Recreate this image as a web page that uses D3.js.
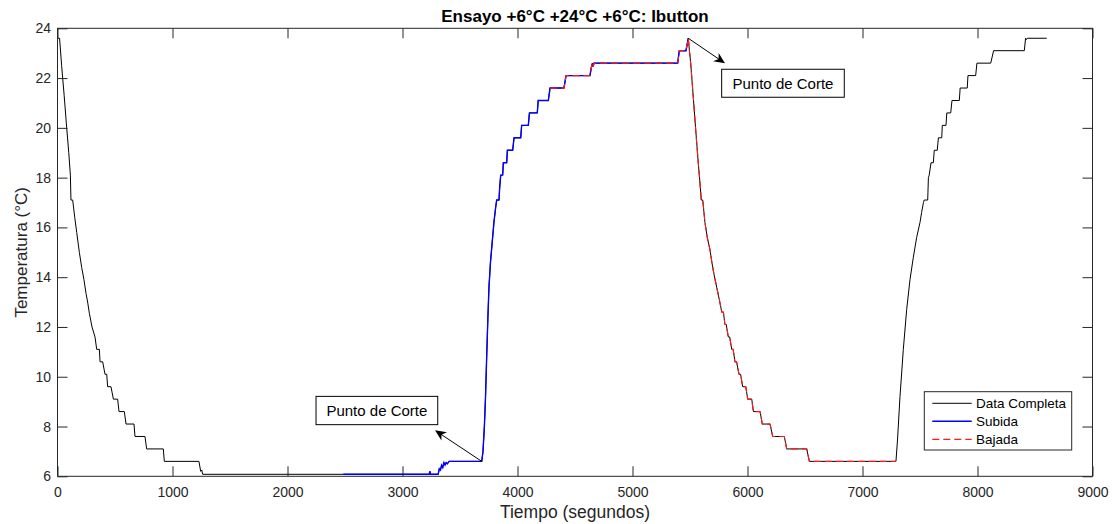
<!DOCTYPE html>
<html>
<head>
<meta charset="utf-8">
<script src="https://cdn.jsdelivr.net/npm/d3@7"></script>
<style>
  html, body { margin: 0; padding: 0; background: #fff; }
  svg { display: block; font-family: "Liberation Sans", Arial, sans-serif; }
</style>
</head>
<body>
<svg id="chart" width="1118" height="524"></svg>
<script>
// ---------------- DATA ----------------
const tituloTexto = "Ensayo +6°C +24°C +6°C: Ibutton";
const xEtiqueta = "Tiempo (segundos)";
const yEtiqueta = "Temperatura (°C)";

const xTicks = [0, 1000, 2000, 3000, 4000, 5000, 6000, 7000, 8000, 9000];
const yTicks = [6, 8, 10, 12, 14, 16, 18, 20, 22, 24];

const tiempo = [
  0, 18, 36, 58, 80, 98, 112, 117, 132, 150, 167, 190, 210, 230, 248, 262, 277, 300, 326,
  341, 364, 370, 393, 413, 428, 436, 465, 486, 523, 535, 581, 596, 665, 674, 761, 775, 920,
  929, 1230, 1245, 1255, 1262, 2485, 3232, 3238, 3244, 3310, 3320, 3330, 3340, 3350, 3360,
  3370, 3380, 3390, 3405, 3436, 3689, 3700, 3712, 3722, 3732, 3742, 3752, 3765, 3780, 3795,
  3810, 3819, 3839, 3845, 3854, 3871, 3877, 3906, 3912, 3958, 3970, 4028, 4036, 4094, 4104,
  4172, 4180, 4268, 4283, 4404, 4422, 4630, 4645, 4652, 4657, 4665, 5393, 5407, 5465, 5485,
  5495, 5506, 5529, 5550, 5570, 5590, 5598, 5611, 5630, 5650, 5674, 5690, 5709, 5732, 5755,
  5776, 5790, 5804, 5815, 5833, 5845, 5863, 5875, 5891, 5905, 5926, 5940, 5958, 5985, 6002,
  6037, 6051, 6109, 6129, 6196, 6219, 6320, 6341, 6515, 6538, 7291, 7305, 7326, 7355, 7384,
  7413, 7442, 7471, 7500, 7514, 7530, 7537, 7567, 7573, 7580, 7596, 7616, 7624, 7650, 7660,
  7689, 7694, 7726, 7733, 7767, 7778, 7842, 7849, 7911, 7917, 7984, 7995, 8115, 8140, 8407,
  8418, 8425, 8432, 8602
];
const temperatura = [
  23.6, 23.6, 22.5, 21.3, 20.0, 19.0, 18.1, 17.1, 17.1, 16.4, 15.8, 15.0, 14.4, 13.9, 13.35, 13.0, 12.55, 12.0, 11.6,
  11.1, 11.1, 10.6, 10.6, 10.1, 10.1, 9.6, 9.6, 9.1, 9.1, 8.6, 8.6, 8.1, 8.1, 7.6, 7.6, 7.1, 7.1,
  6.6, 6.6, 6.2, 6.25, 6.08, 6.08, 6.08, 6.2, 6.08, 6.08, 6.3, 6.25, 6.45, 6.35, 6.55,
  6.45, 6.55, 6.5, 6.6, 6.6, 6.6, 7.0, 8.0, 9.2, 10.8, 12.3, 13.6, 14.6, 15.4, 16.2,
  16.8, 17.1, 17.1, 17.6, 18.1, 18.1, 18.6, 18.6, 19.1, 19.1, 19.6, 19.6, 20.1, 20.1, 20.6,
  20.6, 21.1, 21.1, 21.6, 21.6, 22.1, 22.1, 22.5, 22.6, 22.45, 22.6, 22.6, 23.1, 23.1, 23.6,
  23.1, 22.6, 21.2, 19.9, 18.7, 17.6, 17.1, 17.1, 16.2, 15.6, 15.1, 14.6, 14.1, 13.6, 13.1,
  12.6, 12.6, 12.1, 12.1, 11.6, 11.6, 11.1, 11.1, 10.6, 10.6, 10.1, 10.1, 9.6, 9.6, 9.1,
  9.1, 8.6, 8.6, 8.1, 8.1, 7.6, 7.6, 7.1, 7.1, 6.6, 6.6, 7.5, 9.2, 11.1, 12.7,
  13.9, 14.8, 15.6, 16.2, 16.6, 17.0, 17.1, 17.1, 18.0, 18.1, 18.6, 18.6, 19.1, 19.1, 19.6,
  19.6, 20.1, 20.1, 20.6, 20.6, 21.1, 21.1, 21.6, 21.6, 22.1, 22.1, 22.6, 22.6, 23.1, 23.1,
  23.6, 23.55, 23.6, 23.6
];

// time windows of the two sub-series
const subidaRango = [2485, 5485];
const bajadaRango = [4283, 7291];

// cut points (time, temperature)
const cortesTiempo = [3689, 5485];
const cortesTemp = [6.6, 23.6];
const cortesTexto = ["Punto de Corte", "Punto de Corte"];

const leyendaNombres = ["Data Completa", "Subida", "Bajada"];

// ---------------- CHART ----------------
const svg = d3.select("#chart");
const L = 57.5, R = 1092.5, T = 28.3, B = 476.3;
const x = d3.scaleLinear().domain([0, 9000]).range([L, R]);
const y = d3.scaleLinear().domain([6, 24]).range([B, T]);
const axisColor = "#262626";

const datos = tiempo.map((t, i) => ({ t, v: temperatura[i] }));
const subida = datos.filter(d => d.t >= subidaRango[0] && d.t <= subidaRango[1]);
const bajada = datos.filter(d => d.t >= bajadaRango[0] && d.t <= bajadaRango[1]);

svg.append("defs").append("clipPath").attr("id", "clip")
  .append("rect").attr("x", L).attr("y", T).attr("width", R - L).attr("height", B - T);

const line = d3.line().x(d => x(d.t)).y(d => y(d.v));
const g = svg.append("g").attr("clip-path", "url(#clip)");
g.append("path").datum(datos).attr("d", line)
  .attr("fill", "none").attr("stroke", "#000").attr("stroke-width", 1);
g.append("path").datum(subida).attr("d", line)
  .attr("fill", "none").attr("stroke", "#0000ff").attr("stroke-width", 1.4);
g.append("path").datum(bajada).attr("d", line)
  .attr("fill", "none").attr("stroke", "#ff1a1a").attr("stroke-width", 1.2)
  .attr("stroke-dasharray", "7,4");

// axes
function styleAxis(sel) {
  sel.selectAll(".domain").remove();
  sel.selectAll(".tick line").attr("stroke", axisColor);
  sel.selectAll(".tick text").attr("fill", axisColor).style("font-size", "14px")
    .style("font-family", "'Liberation Sans', Arial, sans-serif");
}
svg.append("g").attr("transform", `translate(0,${B})`)
  .call(d3.axisBottom(x).tickValues(xTicks).tickFormat(d3.format("d")).tickSize(-10).tickPadding(11))
  .call(styleAxis);
svg.append("g").attr("transform", `translate(0,${T})`)
  .call(d3.axisTop(x).tickValues(xTicks).tickFormat("").tickSize(-10))
  .call(styleAxis);
svg.append("g").attr("transform", `translate(${L},0)`)
  .call(d3.axisLeft(y).tickValues(yTicks).tickFormat(d3.format("d")).tickSize(-10).tickPadding(6.5))
  .call(styleAxis);
svg.append("g").attr("transform", `translate(${R},0)`)
  .call(d3.axisRight(y).tickValues(yTicks).tickFormat("").tickSize(-10))
  .call(styleAxis);

svg.append("rect").attr("x", L).attr("y", T).attr("width", R - L).attr("height", B - T)
  .attr("fill", "none").attr("stroke", axisColor).attr("stroke-width", 1);

// title & labels
svg.append("text").attr("x", (L + R) / 2).attr("y", 21.5).attr("text-anchor", "middle")
  .style("font-size", "17px").style("font-weight", "bold").attr("fill", "#000").text(tituloTexto);
svg.append("text").attr("x", (L + R) / 2).attr("y", 518).attr("text-anchor", "middle")
  .style("font-size", "17.5px").attr("fill", axisColor).text(xEtiqueta);
svg.append("text").attr("transform", `translate(27,${(T + B) / 2}) rotate(-90)`).attr("text-anchor", "middle")
  .style("font-size", "17px").attr("fill", axisColor).text(yEtiqueta);

// annotations
const annot = [
  { dx: -46.7, dy: -31, bx: -165.7, by: -65, bw: 121.7, bh: 28.3 },
  { dx: 36.7, dy: 25, bx: 33.4, by: 31, bw: 122.6, bh: 28 }
];
cortesTiempo.forEach((ct, i) => {
  const tx = x(ct), ty = y(cortesTemp[i]);
  const a = annot[i];
  const hx = tx + a.dx, hy = ty + a.dy;
  const ang = Math.atan2(a.dy, a.dx);
  const len = 11, wid = 5;
  const ux = Math.cos(ang), uy = Math.sin(ang);
  const bxp = hx - ux * len, byp = hy - uy * len;
  const nx = -uy, ny = ux;
  svg.append("line").attr("x1", tx).attr("y1", ty).attr("x2", hx - ux * 6).attr("y2", hy - uy * 6)
    .attr("stroke", "#000").attr("stroke-width", 1);
  const notch = [hx - ux * len * 0.7, hy - uy * len * 0.7];
  svg.append("path")
    .attr("d", `M${hx},${hy} L${bxp + nx * wid},${byp + ny * wid} L${notch[0]},${notch[1]} L${bxp - nx * wid},${byp - ny * wid} Z`)
    .attr("fill", "#000");
  svg.append("rect").attr("x", tx + a.bx).attr("y", ty + a.by).attr("width", a.bw).attr("height", a.bh)
    .attr("fill", "none").attr("stroke", "#000").attr("stroke-width", 1);
  svg.append("text").attr("x", tx + a.bx + a.bw / 2).attr("y", ty + a.by + a.bh / 2 + 5.3)
    .attr("text-anchor", "middle").style("font-size", "15px").attr("fill", "#000").text(cortesTexto[i]);
});

// legend
const lg = svg.append("g");
lg.append("rect").attr("x", 924.3).attr("y", 391.7).attr("width", 147.4).attr("height", 58.3)
  .attr("fill", "#fff").attr("stroke", axisColor).attr("stroke-width", 1);
const legStyles = [
  { c: "#000", w: 1, dash: null },
  { c: "#0000ff", w: 1.4, dash: null },
  { c: "#ff1a1a", w: 1.2, dash: "7,4" }
];
leyendaNombres.forEach((n, i) => {
  const yy = 403.3 + i * 18;
  const s = legStyles[i];
  const l = lg.append("line").attr("x1", 932.3).attr("x2", 971.7).attr("y1", yy).attr("y2", yy)
    .attr("stroke", s.c).attr("stroke-width", s.w);
  if (s.dash) l.attr("stroke-dasharray", s.dash);
  lg.append("text").attr("x", 976).attr("y", yy + 4.8).style("font-size", "13.5px")
    .attr("fill", "#000").text(n);
});
</script>
</body>
</html>
